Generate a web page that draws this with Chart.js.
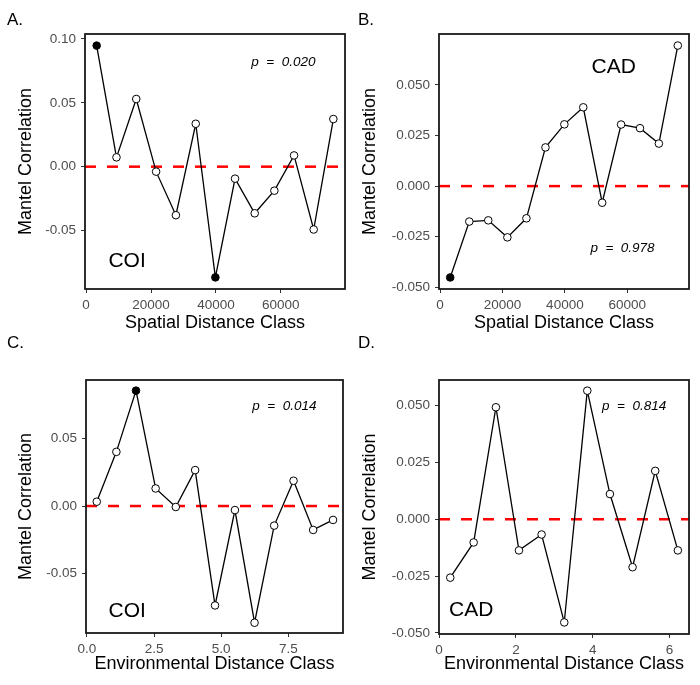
<!DOCTYPE html>
<html>
<head>
<meta charset="utf-8">
<script src="https://cdn.jsdelivr.net/npm/chart.js@4/dist/chart.umd.min.js"></script>
<style>
  body { margin: 0; background: #fff; }
  #wrap { position: relative; width: 700px; height: 685px; font-family: "Liberation Sans", Arial, sans-serif; }
  #wrap canvas { position: absolute; }
  .lab { position: absolute; font-size: 17px; line-height: 17px; color: #000; }
</style>
</head>
<body>
<div id="wrap">
  <canvas id="pA" width="350" height="340" style="left:0;top:0"></canvas>
  <canvas id="pB" width="350" height="340" style="left:350px;top:0"></canvas>
  <canvas id="pC" width="350" height="345" style="left:0;top:340px"></canvas>
  <canvas id="pD" width="350" height="345" style="left:350px;top:340px"></canvas>
  <div class="lab" style="left:7px;top:11px">A.</div>
  <div class="lab" style="left:358px;top:11px">B.</div>
  <div class="lab" style="left:7px;top:334px">C.</div>
  <div class="lab" style="left:358px;top:334px">D.</div>
</div>
<script>
// spatial distance classes (shared by A and B)
const xSpatial = [3250, 9360, 15450, 21570, 27670, 33780, 39830, 45890, 51950, 58010, 64070, 70120, 76180];
const corrSpatialCOI = [0.0948, 0.0073, 0.0530, -0.0039, -0.0380, 0.0336, -0.0867, -0.0094, -0.0365, -0.0188, 0.0088, -0.0492, 0.0373];
const sigSpatialCOI = [1, 0, 0, 0, 0, 0, 1, 0, 0, 0, 0, 0, 0];
const corrSpatialCAD = [-0.0451, -0.0175, -0.0169, -0.0253, -0.0159, 0.0191, 0.0305, 0.0389, -0.0082, 0.0304, 0.0286, 0.0210, 0.0694];
const sigSpatialCAD = [1, 0, 0, 0, 0, 0, 0, 0, 0, 0, 0, 0, 0];

// environmental distance classes
const xEnvCOI = [0.37, 1.10, 1.83, 2.56, 3.31, 4.03, 4.77, 5.51, 6.24, 6.97, 7.69, 8.42, 9.16];
const corrEnvCOI = [0.0032, 0.0401, 0.0854, 0.0130, -0.0007, 0.0266, -0.0736, -0.0030, -0.0864, -0.0145, 0.0187, -0.0177, -0.0103];
const sigEnvCOI = [0, 0, 1, 0, 0, 0, 0, 0, 0, 0, 0, 0, 0];
const xEnvCAD = [0.29, 0.90, 1.48, 2.08, 2.67, 3.26, 3.86, 4.45, 5.04, 5.63, 6.22];
const corrEnvCAD = [-0.0257, -0.0102, 0.0493, -0.0137, -0.0067, -0.0454, 0.0566, 0.0111, -0.0211, 0.0213, -0.0137];
const sigEnvCAD = [0, 0, 0, 0, 0, 0, 0, 0, 0, 0, 0];

// tick labels
const spatialTicks = [0, 20000, 40000, 60000];
const envCOITicks = [0, 2.5, 5, 7.5];
const envCADTicks = [0, 2, 4, 6];
const yTicksCOISpatial = [-0.05, 0, 0.05, 0.10];
const yTicksCADSpatial = [-0.050, -0.025, 0, 0.025, 0.050];
const yTicksCOIEnv = [-0.05, 0, 0.05];
const yTicksCADEnv = [-0.050, -0.025, 0, 0.025, 0.050];

const pValues = ["0.020", "0.978", "0.014", "0.814"];
const genes = ["COI", "CAD", "COI", "CAD"];

const FONT = '"Liberation Sans", Arial, sans-serif';

const panelPlugin = {
    id: "panel",
    beforeDatasetsDraw(chart) {
        const { ctx, chartArea: a, scales } = chart;
        const y0 = scales.y.getPixelForValue(0);
        ctx.save();
        ctx.strokeStyle = "#ff0000";
        ctx.lineWidth = 2.5;
        ctx.setLineDash([11, 11]);
        ctx.beginPath();
        ctx.moveTo(a.left, y0);
        ctx.lineTo(a.right, y0);
        ctx.stroke();
        ctx.restore();
    },
    afterDraw(chart, args, opts) {
        const { ctx, chartArea: a, scales } = chart;
        ctx.save();
        ctx.strokeStyle = "#1a1a1a";
        ctx.lineWidth = 1.8;
        ctx.strokeRect(a.left, a.top, a.right - a.left, a.bottom - a.top);

        ctx.fillStyle = "#000";
        ctx.textAlign = "center";
        ctx.textBaseline = "middle";
        ctx.font = "italic 13.5px " + FONT;
        ctx.fillText("p  =  " + opts.pText, scales.x.getPixelForValue(opts.pAt[0]), scales.y.getPixelForValue(opts.pAt[1]));
        ctx.font = "21px " + FONT;
        ctx.fillText(opts.gene, scales.x.getPixelForValue(opts.geneAt[0]), scales.y.getPixelForValue(opts.geneAt[1]));
        ctx.restore();
    }
};

function makePanel(id, p) {
    const canvas = document.getElementById(id);
    const h = canvas.height;
    const points = p.xs.map((x, i) => ({ x: x, y: p.ys[i] }));

    new Chart(canvas.getContext("2d"), {
        type: "scatter",
        data: {
            datasets: [{
                data: points,
                showLine: true,
                borderColor: "#000",
                borderWidth: 1.3,
                pointRadius: 3.8,
                pointBorderWidth: 1,
                pointBorderColor: "#000",
                pointBackgroundColor: p.sig.map(s => s ? "#000" : "#fff")
            }]
        },
        options: {
            responsive: false,
            animation: false,
            layout: { padding: { left: 0, right: 350 - p.area.right, top: p.area.top, bottom: 0 } },
            plugins: {
                legend: { display: false },
                tooltip: { enabled: false },
                panel: { pText: p.pText, pAt: p.pAt, gene: p.gene, geneAt: p.geneAt }
            },
            scales: {
                x: {
                    type: "linear",
                    min: p.xRange[0],
                    max: p.xRange[1],
                    afterBuildTicks: s => { s.ticks = p.xTicks.map(v => ({ value: v })); },
                    afterFit: s => { s.height = h - p.area.bottom; },
                    border: { display: false },
                    grid: { drawOnChartArea: false, tickLength: 4, color: "#333" },
                    ticks: {
                        autoSkip: false, maxRotation: 0, padding: 4,
                        color: "#4d4d4d", font: { family: FONT, size: 13.5 },
                        callback: v => p.xFmt(v)
                    },
                    title: {
                        display: true, text: p.xTitle, color: "#000",
                        font: { family: FONT, size: 18 },
                        padding: { top: 0, bottom: p.xTitlePad }
                    }
                },
                y: {
                    type: "linear",
                    min: p.yRange[0],
                    max: p.yRange[1],
                    afterBuildTicks: s => { s.ticks = p.yTicks.map(v => ({ value: v })); },
                    afterFit: s => { s.width = p.area.left; },
                    border: { display: false },
                    grid: { drawOnChartArea: false, tickLength: 4, color: "#333" },
                    ticks: {
                        autoSkip: false, padding: 5,
                        color: "#4d4d4d", font: { family: FONT, size: 13.5 },
                        callback: v => v.toFixed(p.yDec)
                    },
                    title: {
                        display: true, text: "Mantel Correlation", color: "#000",
                        font: { family: FONT, size: 18 },
                        padding: { top: p.yTitlePad, bottom: 0 }
                    }
                }
            }
        },
        plugins: [panelPlugin]
    });
}

makePanel("pA", {
    xs: xSpatial, ys: corrSpatialCOI, sig: sigSpatialCOI,
    xRange: [-340, 79770], yRange: [-0.0958, 0.1039],
    xTicks: spatialTicks, yTicks: yTicksCOISpatial, yDec: 2, xFmt: v => String(v),
    xTitle: "Spatial Distance Class",
    area: { left: 85, right: 345, top: 34, bottom: 289 },
    xTitlePad: 6, yTitlePad: 15,
    pText: pValues[0], pAt: [60800, 0.082], gene: genes[0], geneAt: [12630, -0.0742]
});

makePanel("pB", {
    xs: xSpatial, ys: corrSpatialCAD, sig: sigSpatialCAD,
    xRange: [-340, 79770], yRange: [-0.0508, 0.0751],
    xTicks: spatialTicks, yTicks: yTicksCADSpatial, yDec: 3, xFmt: v => String(v),
    xTitle: "Spatial Distance Class",
    area: { left: 89, right: 339, top: 34, bottom: 289 },
    xTitlePad: 6, yTitlePad: 9.5,
    pText: pValues[1], pAt: [58470, -0.0307], gene: genes[1], geneAt: [55630, 0.0588]
});

makePanel("pC", {
    xs: xEnvCOI, ys: corrEnvCOI, sig: sigEnvCOI,
    xRange: [-0.03, 9.53], yRange: [-0.0940, 0.0933],
    xTicks: envCOITicks, yTicks: yTicksCOIEnv, yDec: 2, xFmt: v => v.toFixed(1),
    xTitle: "Environmental Distance Class",
    area: { left: 86, right: 343, top: 40, bottom: 293 },
    xTitlePad: 10.5, yTitlePad: 15,
    pText: pValues[2], pAt: [7.35, 0.0741], gene: genes[2], geneAt: [1.50, -0.0781]
});

makePanel("pD", {
    xs: xEnvCAD, ys: corrEnvCAD, sig: sigEnvCAD,
    xRange: [-0.003, 6.51], yRange: [-0.0505, 0.0613],
    xTicks: envCADTicks, yTicks: yTicksCADEnv, yDec: 3, xFmt: v => String(v),
    xTitle: "Environmental Distance Class",
    area: { left: 89, right: 339, top: 40, bottom: 294 },
    xTitlePad: 10.5, yTitlePad: 9.5,
    pText: pValues[3], pAt: [5.08, 0.0496], gene: genes[3], geneAt: [0.836, -0.0402]
});
</script>
</body>
</html>
